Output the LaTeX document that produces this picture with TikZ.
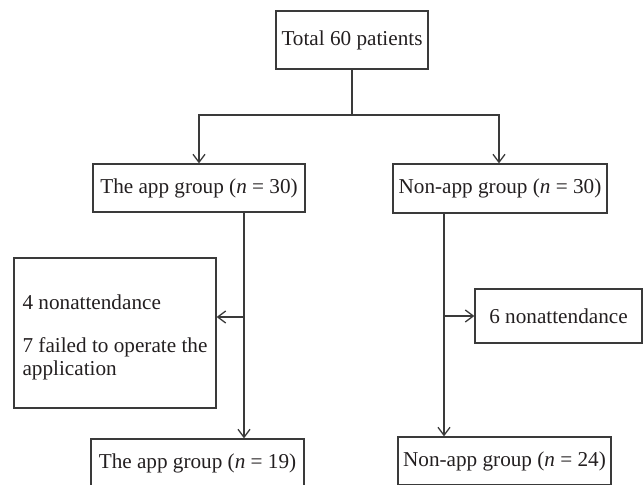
\documentclass[tikz,border=0pt]{standalone}
\usepackage{fontspec}
\setmainfont{Liberation Serif}
\usetikzlibrary{arrows.meta}
\definecolor{ink}{HTML}{231F20}
\definecolor{ln}{HTML}{3A3A3A}
\begin{document}
\begin{tikzpicture}[x=1pt,y=-1pt,
  box/.style={draw=ln,line width=1.3pt,rectangle,inner sep=0pt,text=ink,
    font=\fontsize{21.2}{23}\selectfont},
  link/.style={draw=ln,line width=1.3pt},
  arr/.style={link,-{Straight Barb[length=8pt,width=12pt,line width=1.3pt]}}]
\useasboundingbox (0,0) rectangle (644,484);
\clip (0,0) rectangle (644,484);
\node[box,minimum width=152pt,minimum height=58pt] (top) at (352,40) {Total 60 patients};
\node[box,minimum width=212pt,minimum height=48pt] (appA) at (199,188) {The app group (\textit{n} = 30)};
\node[box,minimum width=214pt,minimum height=49pt] (nonA) at (500,188.5) {Non-app group (\textit{n} = 30)};
\node[box,minimum width=202pt,minimum height=150pt,align=left] (ldrop) at (115,333) {\rule{0pt}{24pt}4 nonattendance\\[20pt]7 failed to operate the\\application};
\node[box,minimum width=167pt,minimum height=54pt] (rdrop) at (558.5,316) {6 nonattendance};
\node[box,minimum width=213pt,minimum height=48pt] (appB) at (197.5,463) {The app group (\textit{n} = 19)};
\node[box,minimum width=213pt,minimum height=48pt] (nonB) at (504.5,461) {Non-app group (\textit{n} = 24)};
\coordinate (j) at (352,115);
\coordinate (a1) at ([xshift=45pt]appA.south);
\coordinate (b1) at ([xshift=-56pt]nonA.south);
\coordinate (ja) at (a1 |- 0,317);
\draw[link] (top.south) -- (j);
\draw[arr] (j) -| (appA.north);
\draw[arr] (j) -| ([xshift=-1pt]nonA.north);
\draw[arr] (a1) -- (a1 |- appB.north);
\draw[arr] (ja) -- (ldrop.east |- ja);
\draw[arr] (b1) -- (b1 |- nonB.north);
\draw[arr] (b1 |- rdrop.west) -- (rdrop.west);
\end{tikzpicture}
\end{document}
